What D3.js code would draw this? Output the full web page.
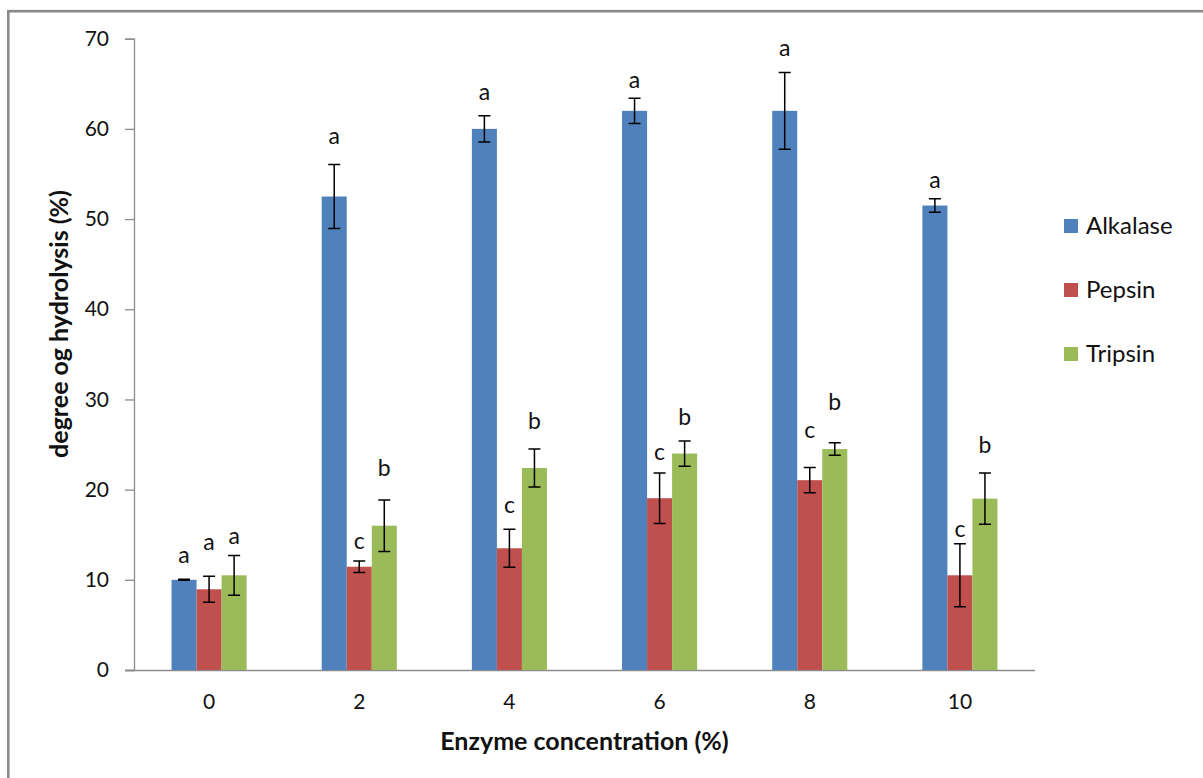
<!DOCTYPE html>
<html>
<head>
<meta charset="utf-8">
<script src="https://cdn.jsdelivr.net/npm/d3@7"></script>
<style>
  html, body { margin: 0; padding: 0; background: #fff; }
  svg { display: block; }
  text { font-family: Lato, "Open Sans", sans-serif; fill: #111; }
</style>
</head>
<body>
<svg id="chart" width="1203" height="778"></svg>
<script>
// ---- data ----
const categories = ["0", "2", "4", "6", "8", "10"];
const seriesNames = ["Alkalase", "Pepsin", "Tripsin"];
const seriesColors = ["#4F81BD", "#C0504D", "#9BBB59"];

const alkalase = [10.0, 52.5, 60.0, 62.0, 62.0, 51.5];
const pepsin   = [8.95, 11.45, 13.5, 19.05, 21.05, 10.5];
const tripsin  = [10.5, 16.0, 22.4, 24.0, 24.5, 19.0];

const alkalaseErr = [0.05, 3.55, 1.45, 1.4, 4.25, 0.75];
const pepsinErr   = [1.45, 0.65, 2.1, 2.8, 1.4, 3.5];
const tripsinErr  = [2.2, 2.85, 2.1, 1.4, 0.7, 2.85];

const alkalaseLetters = ["a", "a", "a", "a", "a", "a"];
const pepsinLetters   = ["a", "c", "c", "c", "c", "c"];
const tripsinLetters  = ["a", "b", "b", "b", "b", "b"];

// letter baseline heights (in axis units)
const alkalaseLetterY = [11.9, 58.3, 63.25, 64.5, 68.1, 53.4];
const pepsinLetterY   = [13.36, 13.4, 17.4, 23.3, 25.7, 14.7];
const tripsinLetterY  = [14.02, 21.5, 26.7, 27.2, 28.8, 24.1];

const yTicks = [0, 10, 20, 30, 40, 50, 60, 70];
const yTitle = "degree og hydrolysis (%)";
const xTitle = "Enzyme concentration (%)";

// ---- build ----
const values = [alkalase, pepsin, tripsin];
const errs = [alkalaseErr, pepsinErr, tripsinErr];
const letters = [alkalaseLetters, pepsinLetters, tripsinLetters];
const letterY = [alkalaseLetterY, pepsinLetterY, tripsinLetterY];

const svg = d3.select("#chart");
const plot = { left: 134, right: 1035, top: 38.7, bottom: 670 };

// outer border (left and top visible)
svg.append("rect")
  .attr("x", 8.3).attr("y", 11.2)
  .attr("width", 1400).attr("height", 1000)
  .attr("fill", "none").attr("stroke", "#8a8a8a").attr("stroke-width", 2.6);

const x = d3.scaleBand().domain(categories).range([plot.left, plot.right]).paddingInner(0).paddingOuter(0);
const bw = x.bandwidth();
const x1 = d3.scaleBand().domain(seriesNames).range([bw / 4, bw * 3 / 4]).padding(0);
const y = d3.scaleLinear().domain([0, 70]).range([plot.bottom, plot.top]);

// y axis
const yAxis = d3.axisLeft(y).tickValues(yTicks).tickSize(9).tickPadding(16).tickFormat(d3.format("d"));
const gy = svg.append("g").attr("transform", `translate(${plot.left},0)`).call(yAxis);
gy.select(".domain").attr("stroke", "#8c8c8c").attr("stroke-width", 1.3);
gy.selectAll(".tick line").attr("stroke", "#8c8c8c").attr("stroke-width", 1.3);
gy.selectAll(".tick text").style("font-size", "21px").attr("fill", "#111").style("font-family", "Lato, sans-serif");

// x axis
const xAxis = d3.axisBottom(x).tickSize(0).tickPadding(24);
const gx = svg.append("g").attr("transform", `translate(0,${plot.bottom})`).call(xAxis);
gx.select(".domain").attr("d", `M${plot.left - 9},0.5H${plot.right}`).attr("stroke", "#8c8c8c").attr("stroke-width", 1.3);
gx.selectAll(".tick text").style("font-size", "21px").attr("fill", "#111").style("font-family", "Lato, sans-serif");

// bars
seriesNames.forEach((name, si) => {
  const g = svg.append("g");
  g.selectAll("rect").data(categories).join("rect")
    .attr("x", c => x(c) + x1(name))
    .attr("width", x1.bandwidth())
    .attr("y", (c, i) => y(values[si][i]))
    .attr("height", (c, i) => y(0) - y(values[si][i]))
    .attr("fill", seriesColors[si]);
});

// error bars
seriesNames.forEach((name, si) => {
  const g = svg.append("g").attr("stroke", "#000").attr("stroke-width", 1.5).attr("fill", "none");
  categories.forEach((c, i) => {
    const cx = x(c) + x1(name) + x1.bandwidth() / 2;
    const hi = y(values[si][i] + errs[si][i]);
    const lo = y(values[si][i] - errs[si][i]);
    g.append("path").attr("d", `M${cx},${hi}V${lo}M${cx - 6},${hi}H${cx + 6}M${cx - 6},${lo}H${cx + 6}`);
  });
});

// significance letters
seriesNames.forEach((name, si) => {
  svg.append("g").selectAll("text").data(categories).join("text")
    .attr("x", c => x(c) + x1(name) + x1.bandwidth() / 2)
    .attr("y", (c, i) => y(letterY[si][i]))
    .attr("text-anchor", "middle")
    .style("font-size", "23px")
    .text((c, i) => letters[si][i]);
});

// legend
const lg = svg.append("g").attr("transform", "translate(1064,0)");
seriesNames.forEach((name, si) => {
  const cy = 226 + si * 64;
  lg.append("rect").attr("x", 0).attr("y", cy - 7).attr("width", 14).attr("height", 14).attr("fill", seriesColors[si]);
  lg.append("text").attr("x", 22).attr("y", cy).attr("dy", "0.35em").style("font-size", "24px").text(name);
});

// axis titles
svg.append("text")
  .attr("transform", `translate(68,324) rotate(-90)`)
  .attr("text-anchor", "middle")
  .style("font-size", "25px").style("font-weight", "bold")
  .text(yTitle);
svg.append("text")
  .attr("x", (plot.left + plot.right) / 2).attr("y", 750)
  .attr("text-anchor", "middle")
  .style("font-size", "25px").style("font-weight", "bold")
  .text(xTitle);
</script>
</body>
</html>
